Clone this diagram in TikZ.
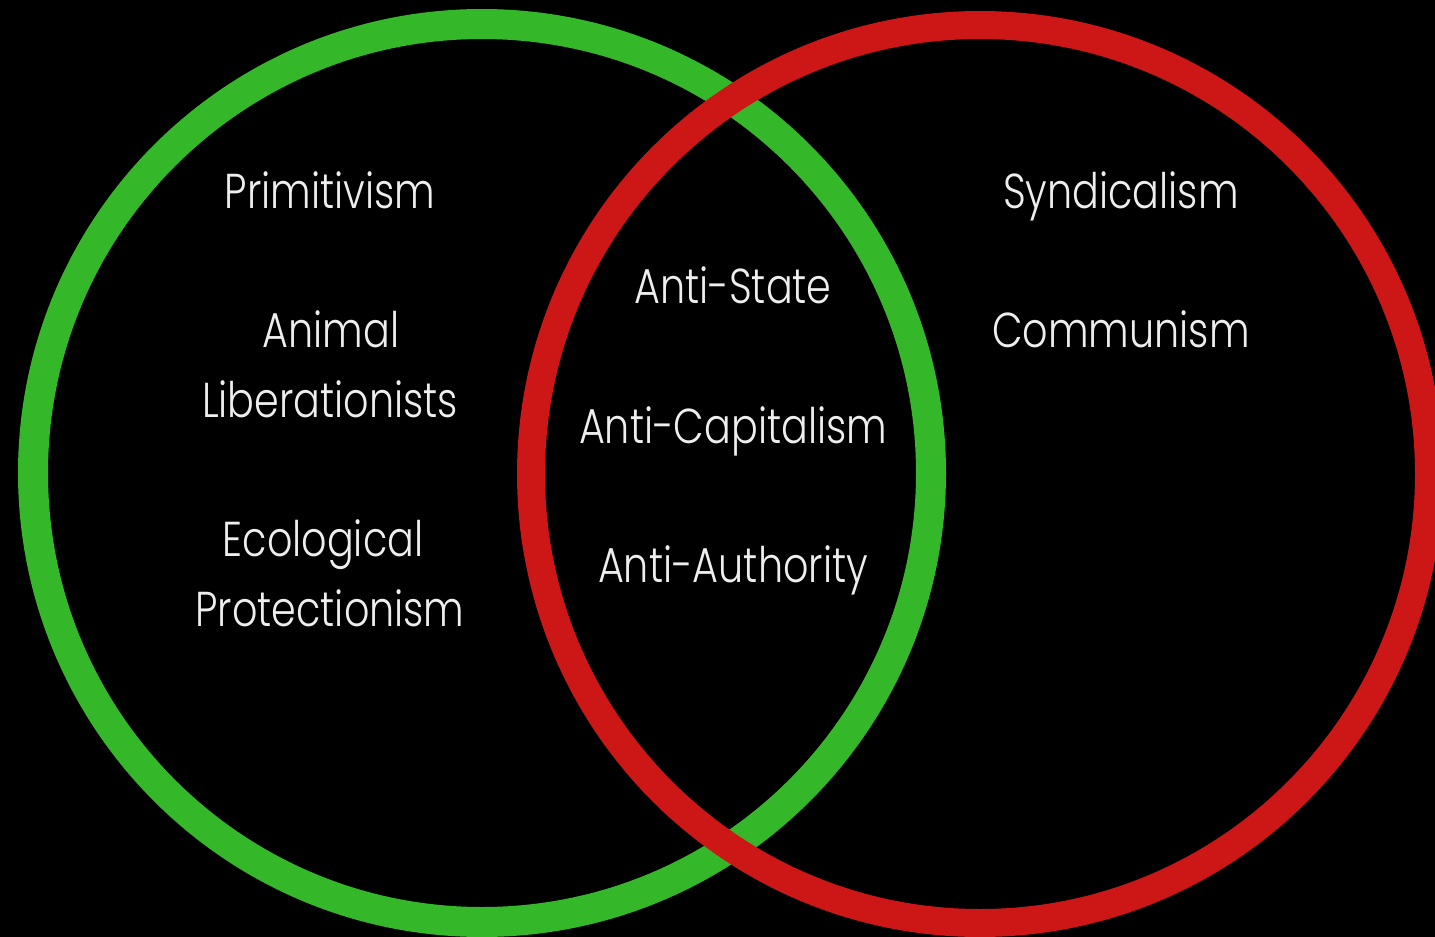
\documentclass[tikz,border=0pt]{standalone}
\usepackage{fontspec}
\newfontfamily\thinfont{Poppins Light}
\definecolor{ringgreen}{RGB}{52,184,42}
\definecolor{ringred}{RGB}{205,22,22}
\definecolor{txt}{RGB}{238,238,238}
\tikzset{
  lbl/.style={text=txt, font=\thinfont\fontsize{49}{49}\selectfont, anchor=base, inner sep=0pt, xscale=0.81, transform shape},
}
\begin{document}
\begin{tikzpicture}[x=1pt,y=-1pt]
\fill[black] (0,0) rectangle (1435,937);
\useasboundingbox (0,0) rectangle (1435,937);
\draw[ringgreen, line width=30pt] (482,473) circle[radius=449];
\draw[ringred, line width=28pt] (980,474) circle[radius=449];
\node[lbl] (prim) at (330,208) {Primitivism};
\node[lbl] (anim) at (331,347) {Animal};
\node[lbl] (lib) at (330,417) {Liberationists};
\node[lbl] (eco) at (323,556) {Ecological};
\node[lbl] (prot) at (330,626) {Protectionism};
\node[lbl] (state) at (733,303) {Anti-State};
\node[lbl] (cap) at (733,443) {Anti-Capitalism};
\node[lbl] (auth) at (733,582) {Anti-Authority};
\node[lbl] (synd) at (1121,208) {Syndicalism};
\node[lbl] (comm) at (1121,347) {Communism};
\end{tikzpicture}
\end{document}
